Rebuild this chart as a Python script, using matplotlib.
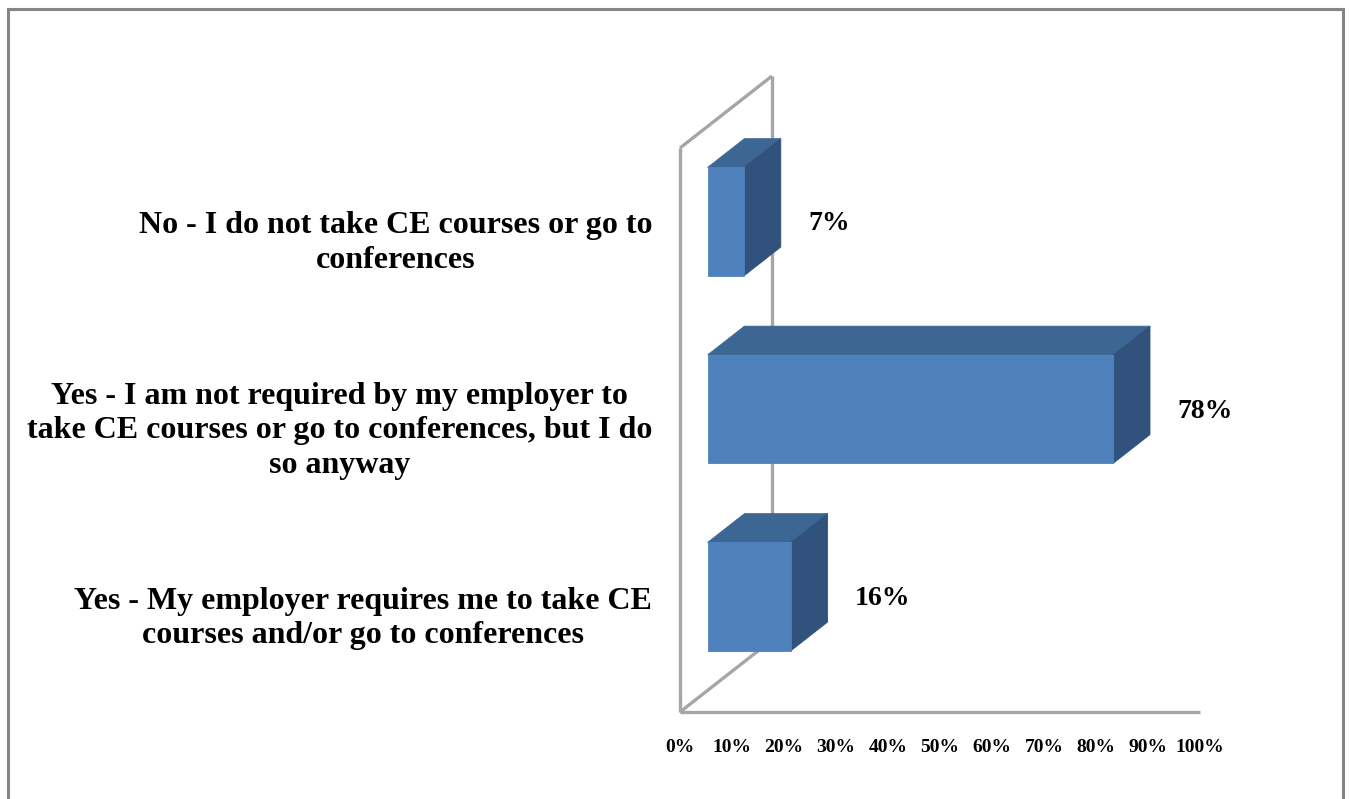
"""
Horizontal 3-D style bar chart: continuing-education participation.
Bars are drawn as front / top / side polygons on a flat axes, with the
depth expressed as an oblique offset in data units.
"""

import matplotlib.pyplot as plt
from matplotlib.patches import Polygon

# --- data -------------------------------------------------------------------
categories = [
    "Yes - My employer requires me to take CE\ncourses and/or go to conferences",
    "Yes - I am not required by my employer to\ntake CE courses or go to conferences, but I do\nso anyway",
    "No - I do not take CE courses or go to\nconferences",
]
values = [16, 78, 7]
value_labels = ["16%", "78%", "7%"]
tick_values = [0, 10, 20, 30, 40, 50, 60, 70, 80, 90, 100]
tick_labels = ["0%", "10%", "20%", "30%", "40%", "50%", "60%", "70%", "80%", "90%", "100%"]

# --- style ------------------------------------------------------------------
FRONT = "#4f81bd"
TOP = "#3c6694"
SIDE = "#31527c"
WALL = "#a6a6a6"
FONT = "Liberation Serif"

W, H, DPI = 1349, 799, 100

# pixel layout of the plot area (front plane)
PX_X0, PX_X100 = 680, 1200      # 0% and 100% on the front floor edge
PX_FLOOR = 712                  # front floor edge
PX_CAT = 187.5                  # vertical pitch of one category
px_per_pct = (PX_X100 - PX_X0) / 100.0

# oblique depth of the whole box, in data units
DEPTH_X = 92 / px_per_pct
DEPTH_Y = 72 / PX_CAT
BAR_D0, BAR_D1 = 0.30, 0.70     # bar sits in the middle of the depth
BAR_H = 0.578                   # bar thickness in category units
WALL_TOP = 564 / PX_CAT


def main():
    fig = plt.figure(figsize=(W / DPI, H / DPI), dpi=DPI)
    ax = fig.add_axes([0, 0, 1, 1])
    ax.set_xlim(-PX_X0 / px_per_pct, (W - PX_X0) / px_per_pct)
    ax.set_ylim((PX_FLOOR - H) / PX_CAT, PX_FLOOR / PX_CAT)
    ax.axis("off")

    top = WALL_TOP

    # side wall and floor outline
    wall_kw = dict(color=WALL, lw=2.4, solid_capstyle="butt", zorder=1)
    ax.plot([DEPTH_X, DEPTH_X], [DEPTH_Y, top + DEPTH_Y], **wall_kw)
    ax.plot([0, DEPTH_X], [top, top + DEPTH_Y], **wall_kw)
    ax.plot([0, DEPTH_X], [0, DEPTH_Y], **wall_kw)
    ax.plot([0, 0], [0, top], **wall_kw)
    ax.plot([0, 100], [0, 0], **wall_kw)

    fx, fy = BAR_D0 * DEPTH_X, BAR_D0 * DEPTH_Y
    dx, dy = (BAR_D1 - BAR_D0) * DEPTH_X, (BAR_D1 - BAR_D0) * DEPTH_Y

    for i, (v, lab) in enumerate(zip(values, value_labels)):
        yc = i + 0.5 + fy
        y0, y1 = yc - BAR_H / 2, yc + BAR_H / 2
        x0, x1 = fx, fx + v
        front = [(x0, y0), (x1, y0), (x1, y1), (x0, y1)]
        topf = [(x0, y1), (x1, y1), (x1 + dx, y1 + dy), (x0 + dx, y1 + dy)]
        side = [(x1, y0), (x1 + dx, y0 + dy), (x1 + dx, y1 + dy), (x1, y1)]
        for pts, c in ((topf, TOP), (side, SIDE), (front, FRONT)):
            ax.add_patch(Polygon(pts, closed=True, facecolor=c,
                                 edgecolor=c, lw=0.6, zorder=3))
        ax.text(x1 + dx + 5.3, yc - 0.01, lab, ha="left", va="center",
                fontsize=20, fontweight="bold", family=FONT, zorder=4)

    # category labels, right-aligned against the chart
    for i, cat in enumerate(categories):
        ax.text((652 - PX_X0) / px_per_pct, i + 0.5, cat, ha="right",
                va="center", multialignment="center", fontsize=23,
                fontweight="bold", family=FONT, linespacing=1.25)

    # value axis tick labels
    for t, tl in zip(tick_values, tick_labels):
        ax.text(t, -(748 - PX_FLOOR) / PX_CAT, tl, ha="center", va="center",
                fontsize=14, fontweight="bold", family=FONT)

    # outer chart border (open at the bottom)
    bx0, bx1 = -(PX_X0 - 7.5) / px_per_pct, (1343 - PX_X0) / px_per_pct
    by1 = (PX_FLOOR - 8.5) / PX_CAT
    ylo = ax.get_ylim()[0]
    ax.plot([bx0, bx0, bx1, bx1], [ylo, by1, by1, ylo],
            color="#868686", lw=2.2, solid_joinstyle="miter", zorder=1)

    fig.savefig("out.png", dpi=DPI)
    plt.close(fig)


if __name__ == "__main__":
    main()
